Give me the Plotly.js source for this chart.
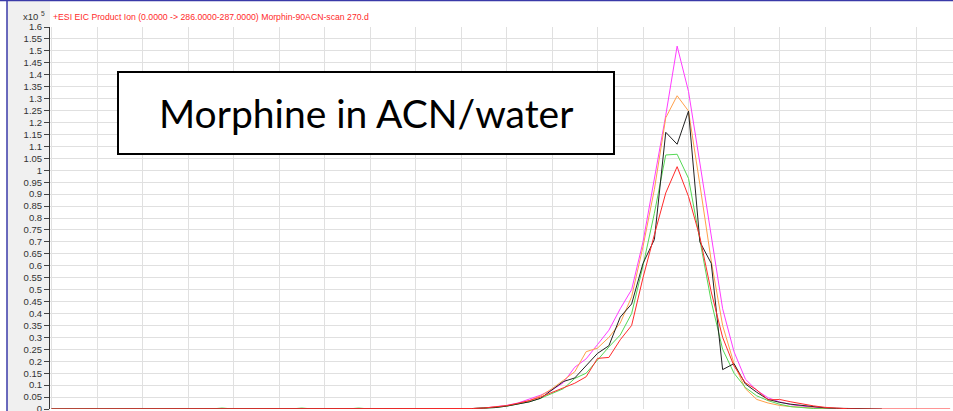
<!DOCTYPE html>
<html>
<head>
<meta charset="utf-8">
<script src="https://cdn.plot.ly/plotly-3.0.1.min.js"></script>
<style>html,body{margin:0;padding:0;background:#fff;overflow:hidden;}#chart{width:953px;height:418px;}</style>
</head>
<body>
<div id="chart"></div>
<script>
// Acquisition time axis (grid units), one scan every 0.25
const time = [0,0.25,0.5,0.75,1,1.25,1.5,1.75,2,2.25,2.5,2.75,3,3.25,3.5,3.75,4,4.25,4.5,4.75,
  5,5.25,5.5,5.75,6,6.25,6.5,6.75,7,7.25,7.5,7.75,8,8.25,8.5,8.75,9,9.25,9.5,9.75,
  10,10.25,10.5,10.75,11,11.25,11.5,11.75,12,12.25,12.5,12.75,13,13.25,13.5,13.75,14,14.25,14.5,14.75,
  15,15.25,15.5,15.75,16,16.25,16.5,16.75,17,17.25,17.5,17.75,18,18.25,18.5,18.75,19,19.25,19.5,19.75];

// Counts in units of 10^5
const magenta = [0,0,0,0,0,0,0,0,0,0,0,0,0,0,0,0,0,0,0,0,0,0,0,0,0,0,0,0,0,0,0,0,0,0,0,0,0.001,0.002,0.004,0.008,
  0.015,0.025,0.04,0.058,0.08,0.11,0.175,0.21,0.27,0.33,0.42,0.5,0.7,0.96,1.23,1.52,1.33,1.03,0.73,0.42,
  0.24,0.125,0.078,0.047,0.03,0.018,0.012,0.006,0.003,0.001,0,0];
const orange = [0,0,0,0,0,0,0,0,0,0,0,0,0,0,0,0,0.003,0,0,0.003,0,0,0,0,0,0,0,0,0,0,0,0,0,0,0,0,0.001,0.002,0.004,0.007,
  0.013,0.022,0.035,0.055,0.085,0.12,0.156,0.24,0.255,0.3,0.36,0.47,0.68,0.92,1.22,1.312,1.248,0.94,0.62,0.35,
  0.19,0.085,0.04,0.025,0.015,0.01,0.006,0.003,0.001,0,0,0,0];
const green = [0,0,0,0,0,0,0,0,0,0,0,0,0,0,0,0.004,0,0,0,0,0,0,0.004,0,0,0,0,0.004,0,0,0,0,0,0,0,0,0.001,0.002,0.004,0.006,
  0.012,0.02,0.03,0.045,0.065,0.085,0.128,0.15,0.205,0.26,0.31,0.4,0.6,0.82,1.064,1.067,0.966,0.7,0.45,0.25,
  0.15,0.09,0.055,0.035,0.02,0.01,0.005,0.002,0,0,0];
const black = [0,0,0,0,0,0,0,0,0,0,0,0,0,0,0,0,0,0,0,0,0,0,0,0,0,0,0,0,0,0,0,0,0,0,0,0,0.001,0.002,0.004,0.006,
  0.012,0.02,0.03,0.045,0.08,0.115,0.13,0.18,0.233,0.265,0.385,0.44,0.61,0.71,1.159,1.109,1.248,0.7,0.61,0.165,
  0.19,0.105,0.07,0.04,0.028,0.02,0.014,0.009,0.005,0.003,0.002,0.001,0,0];
const red = [0,0,0,0,0,0,0,0,0,0,0,0,0,0,0,0,0,0,0,0,0,0,0,0,0,0,0,0,0,0,0,0,0,0,0,0,0.001,0.002,0.004,0.008,
  0.014,0.024,0.035,0.05,0.07,0.087,0.108,0.135,0.212,0.216,0.29,0.35,0.55,0.73,0.905,1.015,0.89,0.72,0.49,0.3,
  0.18,0.11,0.08,0.038,0.04,0.03,0.02,0.013,0.007,0.003,0.001,0,0,0,0,0,0,0,0,0];

const seriesNames = ['Run 1','Run 2','Run 3','Run 4','Run 5'];
const seriesColors = ['#ff3cff','#ffa04a','#55d855','#222222','#ff2a2a'];
const seriesData = [magenta, orange, green, black, red];

const chartTitle = '+ESI EIC Product Ion (0.0000 -> 286.0000-287.0000) Morphin-90ACN-scan 270.d';
const boxLabel = 'Morphine in ACN/water';
const yScaleLabel = 'x10 <sup>5</sup>';

const traces = seriesData.map((vals, i) => ({
  type: 'scatter', mode: 'lines', name: seriesNames[i],
  x: time.slice(0, vals.length), y: vals,
  line: {color: seriesColors[i], width: 1}
}));

// paper-coordinate helpers for 903x382 plot area at (50,27)
const px = x => (x - 50) / 903;
const py = y => (409 - y) / 382;

const layout = {
  width: 953, height: 418,
  margin: {l: 50, r: 0, t: 27, b: 9, pad: 0},
  paper_bgcolor: '#ffffff', plot_bgcolor: '#ffffff',
  showlegend: false,
  title: {text: chartTitle, font: {family: 'Liberation Sans, Arial, sans-serif', size: 8.7, color: '#ff2a2a'},
          x: 53/953, xanchor: 'left', xref: 'container', y: 1 - 17/418, yanchor: 'middle', yref: 'container'},
  xaxis: {range: [-0.033, 19.813], dtick: 1, tick0: 0, showgrid: true, gridcolor: '#e0e0e0', gridwidth: 1,
          showticklabels: false, ticks: '', zeroline: false, showline: false, fixedrange: true},
  yaxis: {range: [0, 1.6], dtick: 0.05, tick0: 0, showgrid: true, gridcolor: '#e0e0e0', gridwidth: 1,
          ticks: 'outside', ticklen: 5, tickwidth: 1, tickcolor: '#444',
          tickfont: {family: 'Liberation Sans, Arial, sans-serif', size: 9.5, color: '#333'},
          showline: true, linecolor: '#333', linewidth: 1, zeroline: false, fixedrange: true},
  shapes: [
    {type: 'rect', xref: 'paper', yref: 'paper', x0: px(7), x1: px(50), y0: py(418), y1: py(-1),
     fillcolor: '#f0f0f0', line: {width: 0}, layer: 'below'},
    {type: 'line', xref: 'paper', yref: 'paper', x0: px(7), x1: px(7), y0: py(418), y1: py(0),
     line: {color: '#3a3aa8', width: 1.5}},
    {type: 'line', xref: 'paper', yref: 'paper', x0: px(0), x1: px(953), y0: py(0.5), y1: py(0.5),
     line: {color: '#3a3aa8', width: 1.5}},
    {type: 'rect', xref: 'paper', yref: 'paper', x0: px(118), x1: px(614), y0: py(154), y1: py(72),
     fillcolor: '#ffffff', line: {color: '#000000', width: 2}, layer: 'above'}
  ],
  annotations: [
    {text: boxLabel, xref: 'paper', yref: 'paper', x: px(366), y: py(113), xanchor: 'center', yanchor: 'middle',
     showarrow: false, font: {family: 'Lato, Carlito, Calibri, sans-serif', size: 39, color: '#000'}},
    {text: yScaleLabel, xref: 'paper', yref: 'paper', x: px(47), y: py(16), xanchor: 'right', yanchor: 'middle',
     showarrow: false, font: {family: 'Liberation Sans, Arial, sans-serif', size: 9.5, color: '#333'}}
  ]
};

Plotly.newPlot('chart', traces, layout, {staticPlot: true, displayModeBar: false});
</script>
</body>
</html>
